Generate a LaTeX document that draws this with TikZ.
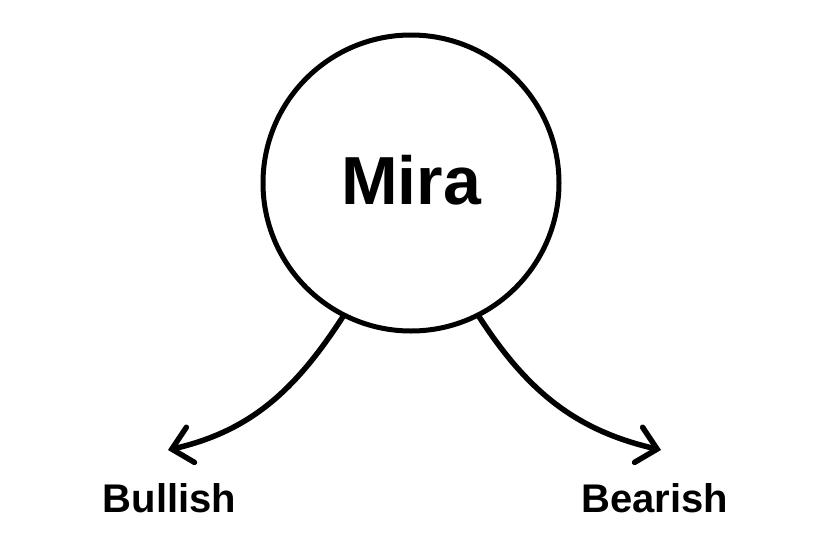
\documentclass[tikz,border=0pt]{standalone}
\usepackage{fontspec}
\setmainfont{Liberation Sans}
\usetikzlibrary{arrows.meta}

\begin{document}
\begin{tikzpicture}[x=1pt, y=-1pt, every node/.style={font=\bfseries}, >={Straight Barb[length=19pt, width=36pt, line cap=round]}]
	\useasboundingbox (0,0) rectangle (828,552);
	\node[circle, draw, line width=5pt, minimum size=296pt, inner sep=0pt, text depth=7pt, font=\fontsize{68}{70}\selectfont\bfseries] (mira) at (411,183) {Mira};
	\coordinate (bulltip) at (168,450);
	\coordinate (beartip) at (661,450);
	\draw[->, line width=5.5pt, line cap=round] (mira.243) to[out=237, in=13] (bulltip);
	\draw[->, line width=5.5pt, line cap=round] (mira.297) to[out=-57, in=167] (beartip);
	\node[anchor=base, font=\fontsize{40}{42}\selectfont\bfseries] (bullish) at (169.5,512) {Bullish};
	\node[anchor=base, font=\fontsize{40}{42}\selectfont\bfseries] (bearish) at (654.5,512) {Bearish};
\end{tikzpicture}
\end{document}
